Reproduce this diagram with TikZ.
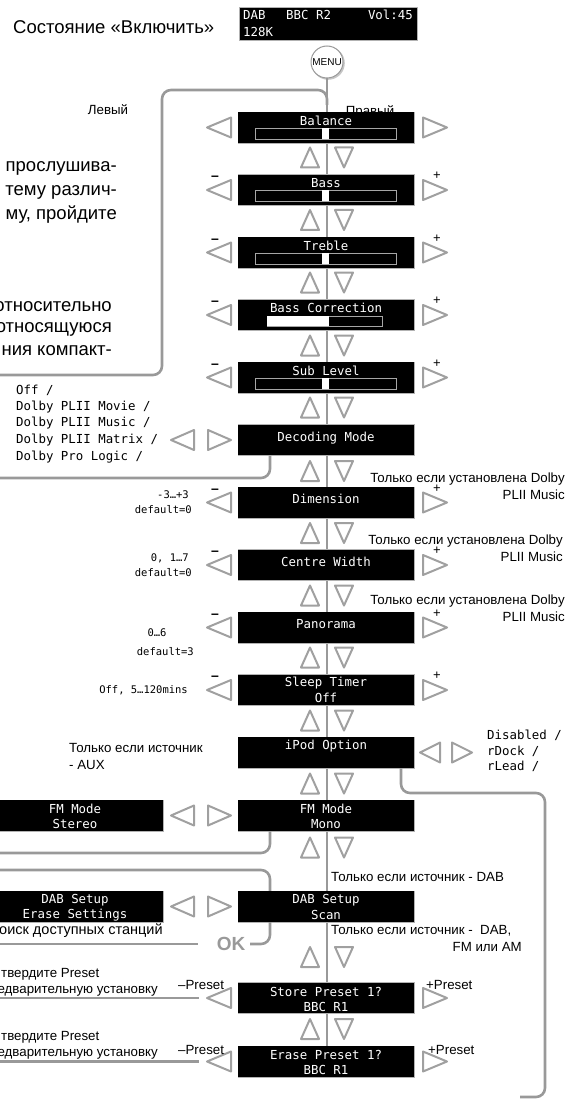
\documentclass[tikz,border=0pt]{standalone}
\usepackage{fontspec}
\setmainfont{Liberation Sans}
\newfontfamily\lcdfont{DejaVu Sans Mono}
\definecolor{lg}{HTML}{999999}
\definecolor{tg}{HTML}{A0A0A0}
\newcommand\Ltri[3]{\draw[tri] (#1,#2) -- ++(#3,-10) -- ++(0,20) -- cycle;}
\newcommand\Rtri[3]{\draw[tri] (#1,#2) -- ++(-#3,-10) -- ++(0,20) -- cycle;}
\newcommand\UDtri[1]{\draw[tri] (310,#1-10) -- (319,#1+10) -- (301,#1+10) -- cycle;
  \draw[tri] (344,#1+10) -- (353,#1-10) -- (335,#1-10) -- cycle;}
\newcommand\BarA[1]{\draw[gray!70, line width=0.6pt, fill=black] (255,#1+16) rectangle (396,#1+27);
  \fill[white] (322,#1+16.3) rectangle (329,#1+26.7);}
\newcommand\PM[2]{\node[pm] (#1m) at (215,#2+4) {–};\node[pp] (#1p) at (437,#2+2) {+};}
\begin{document}
\begin{tikzpicture}[x=1pt,y=-1pt,
  lcd/.style={fill=black, draw=gray!60, line width=0.6pt, minimum width=176pt, minimum height=31pt, inner sep=0pt},
  lt/.style={font=\lcdfont\fontsize{12.4}{14}\selectfont, text=white, inner sep=0pt},
  lb/.style={font=\lcdfont\fontsize{12.4}{14}\selectfont, text=black, inner sep=0pt},
  lv/.style={font=\lcdfont\fontsize{10.5}{12}\selectfont, text=black, inner sep=0pt},
  bt/.style={font=\fontsize{13.3}{17}\selectfont, inner sep=0pt},
  big/.style={font=\fontsize{18.5}{23.5}\selectfont, inner sep=0pt},
  pm/.style={font=\fontsize{14}{14}\selectfont\bfseries, inner sep=0pt},
  pp/.style={font=\fontsize{13}{13}\selectfont, inner sep=0pt},
  gl/.style={draw=lg, line width=2.6pt, rounded corners=9pt},
  cl/.style={draw=lg, line width=2pt},
  tri/.style={draw=tg, line width=2pt, line join=round, fill=white},
]
\useasboundingbox (0,0) rectangle (568,1099);
\clip (0,0) rectangle (568,1099);

% title and display
\node[big, anchor=west] (title) at (13,27) {Состояние «Включить»};
\node[lcd, minimum width=178pt, minimum height=33pt] (disp) at (328,23.5) {};
\node[lt, anchor=west] (d1) at (243,15) {DAB};
\node[lt, anchor=west] (d2) at (286,15) {BBC R2};
\node[lt, anchor=east] (d3) at (413,15) {Vol:45};
\node[lt, anchor=west] (d4) at (243,32) {128K};
\fill[gray!45] (328.2,63.2) circle (16.6pt);
\node[circle, draw=gray!80, fill=white, line width=1pt, minimum size=32pt, inner sep=0pt,
      font=\fontsize{10}{10}\selectfont] (menu) at (327,62) {MENU};

\node[bt] (lev) at (108,110) {Левый};
\node[bt] (prav) at (370,112) {Правый};

% left paragraph (cut)
\node[big, anchor=east] (p1) at (117,168) {прослушива-};
\node[big, anchor=east] (p2) at (117,192) {тему различ-};
\node[big, anchor=east] (p3) at (117,215) {му, пройдите};
\node[big, anchor=east] (p4) at (112,307) {относительно};
\node[big, anchor=east] (p5) at (112,329) {относящуюся};
\node[big, anchor=east] (p6) at (112,351) {ния компакт-};

% gray routing lines
\draw[gl] (327,105) -- (327,90) -- (162,90) -- (162,375) -- (-10,375);
\draw[cl] (menu.south) -- (327,1046);

% central boxes
\node[lcd] (bal) at (326,127.5) {};
\node[lcd] (bass) at (326,190) {};
\node[lcd] (treb) at (326,252.5) {};
\node[lcd] (bcor) at (326,315) {};
\node[lcd] (sub) at (326,377.5) {};
\node[lcd] (dec) at (326,440) {};
\node[lcd] (dim) at (326,502.5) {};
\node[lcd] (cw) at (326,565) {};
\node[lcd] (pan) at (326,627.5) {};
\node[lcd] (sleep) at (326,690) {};
\node[lcd] (ipod) at (326,752.5) {};
\node[lcd] (fmm) at (326,815.5) {};
\node[lcd] (dab) at (326,906.5) {};
\node[lcd] (store) at (326,998) {};
\node[lcd] (erase) at (326,1061.5) {};
\node[lcd] (fms) at (75,815.5) {};
\node[lcd] (dabe) at (75,906.5) {};

% routing lines from boxes
\draw[gl] ([xshift=-56pt]dec.south) -- (270,478) -- (-10,478);
\draw[gl] ([xshift=-56pt]fmm.south) -- (270,853) -- (-10,853);
\draw[gl] (-10,870) -- (270,870) -- (270,944) -- (250,944);
\draw[gl] (-10,944) -- (198,944);
\node[font=\fontsize{19}{19}\selectfont\bfseries, text=lg, inner sep=0pt] (ok) at (231,944) {OK};
\draw[gl] ([xshift=75pt]ipod.south) -- (401,793) -- (545,793) -- (545,1097) -- (520,1097);
\draw[gl] (-10,998) -- (199,998);
\draw[gl] (-10,1061.5) -- (199,1061.5);

% redraw boxes on top of lines
\foreach \y in {127.5,190,252.5,315,377.5,440,502.5,565,627.5,690,752.5,815.5,906.5,998,1061.5}
  \fill[black] (238.3,\y-15.2) rectangle (413.7,\y+15.2);
\foreach \y in {815.5,906.5}
  \fill[black] (-13,\y-15.2) rectangle (162.7,\y+15.2);

% box texts
\node[lt] (balt) at (326,121) {Balance}; \BarA{112}
\node[lt] (basst) at (326,183) {Bass}; \BarA{174}
\node[lt] (trebt) at (326,246) {Treble}; \BarA{237}
\node[lt] (bcort) at (326,308) {Bass Correction};
\draw[gray!70, line width=0.6pt, fill=black] (267,316) rectangle (382,326);
\fill[white] (267,316.3) rectangle (329,325.7);
\node[lt] (subt) at (326,371) {Sub Level}; \BarA{362}
\node[lt] (dect) at (326,438) {Decoding Mode};
\node[lt] (dimt) at (326,499) {Dimension};
\node[lt] (cwt) at (326,562) {Centre Width};
\node[lt] (pant) at (326,624) {Panorama};
\node[lt] (sleept1) at (326,683) {Sleep Timer};
\node[lt] (sleept2) at (326,698) {Off};
\node[lt] (ipodt) at (326,746) {iPod Option};
\node[lt] (fmmt1) at (326,809) {FM Mode};
\node[lt] (fmmt2) at (326,824) {Mono};
\node[lt] (fmst1) at (75,809) {FM Mode};
\node[lt] (fmst2) at (75,824) {Stereo};
\node[lt] (dabt1) at (326,900) {DAB Setup};
\node[lt] (dabt2) at (326,915) {Scan};
\node[lt] (dabet1) at (75,900) {DAB Setup};
\node[lt] (dabet2) at (75,915) {Erase Settings};
\node[lt] (storet1) at (326,992) {Store Preset 1?};
\node[lt] (storet2) at (326,1007) {BBC R1};
\node[lt] (eraset1) at (326,1055) {Erase Preset 1?};
\node[lt] (eraset2) at (326,1070) {BBC R1};

% up/down arrows
\foreach \y in {157.5,220,282.5,345.5,407.5,471,533,595.5,657.5,720.5,783.5,847.5,957,1029}
  {\UDtri{\y}}

% left/right arrows
\foreach \y in {127.5,190,252.5,315,377.5,502.5,565,627.5,690,998,1061.5}
  {\Ltri{207}{\y}{24}\Rtri{447}{\y}{24}}
\foreach \y in {440,815.5,906.5}
  {\Ltri{171}{\y}{23}\Rtri{231}{\y}{23}}
\Ltri{420}{752.5}{20}\Rtri{472}{752.5}{20}

% plus / minus
\PM{bass}{174}\PM{treb}{237}\PM{bcor}{299}\PM{sub}{362}
\PM{dim}{487}\PM{cw}{549}\PM{pan}{612}\PM{sleep}{674}
\node[bt, anchor=west] (spm) at (178,985) {–Preset};
\node[bt, anchor=west] (spp) at (426,985) {+Preset};
\node[bt, anchor=west] (epm) at (178,1050) {–Preset};
\node[bt, anchor=west] (epp) at (428,1050) {+Preset};

% decoding options
\node[lb, anchor=west] (o1) at (16,390) {Off /};
\node[lb, anchor=west] (o2) at (16,407) {Dolby PLII Movie /};
\node[lb, anchor=west] (o3) at (16,423) {Dolby PLII Music /};
\node[lb, anchor=west] (o4) at (16,440) {Dolby PLII Matrix /};
\node[lb, anchor=west] (o5) at (16,457) {Dolby Pro Logic /};

% value texts
\node[lv, anchor=east] (v1) at (189,495) {-3…+3};
\node[lv, anchor=east] (v2) at (192,510) {default=0};
\node[lv, anchor=east] (v3) at (189,558) {0, 1…7};
\node[lv, anchor=east] (v4) at (192,573) {default=0};
\node[lv] (v5) at (157,633) {0…6};
\node[lv, anchor=east] (v6) at (194,652) {default=3};
\node[lv, anchor=east] (v7) at (188,690) {Off, 5…120mins};

% iPod options
\node[lb, anchor=west] (i1) at (487,735) {Disabled /};
\node[lb, anchor=west] (i2) at (487,751) {rDock /};
\node[lb, anchor=west] (i3) at (487,766) {rLead /};

% condition notes
\node[bt, anchor=east, align=right] (n1) at (565,486.5) {Только если установлена Dolby\\PLII Music};
\node[bt, anchor=east, align=right] (n2) at (563,548.5) {Только если установлена Dolby\\PLII Music};
\node[bt, anchor=east, align=right] (n3) at (565,608.5) {Только если установлена Dolby\\PLII Music};
\node[bt, anchor=west] (n4) at (69,748) {Только если источник};
\node[bt, anchor=west] (n5) at (69,765) {- AUX};
\node[bt, anchor=west] (n6) at (331,877) {Только если источник - DAB};
\node[bt, anchor=west] (n7) at (331,931) {Только если источник - \ DAB,};
\node[bt, anchor=east] (n8) at (522,947) {FM или AM};

% left cut notes
\node[bt, anchor=west, font=\fontsize{14.5}{17}\selectfont] (c1) at (-1,931) {оиск доступных станций};
\node[bt, anchor=west] (c2) at (1,974) {твердите Preset};
\node[bt, anchor=east] (c3) at (158,991) {едварительную установку};
\node[bt, anchor=west] (c4) at (1,1037) {твердите Preset};
\node[bt, anchor=east] (c5) at (158,1054) {едварительную установку};
\end{tikzpicture}
\end{document}
